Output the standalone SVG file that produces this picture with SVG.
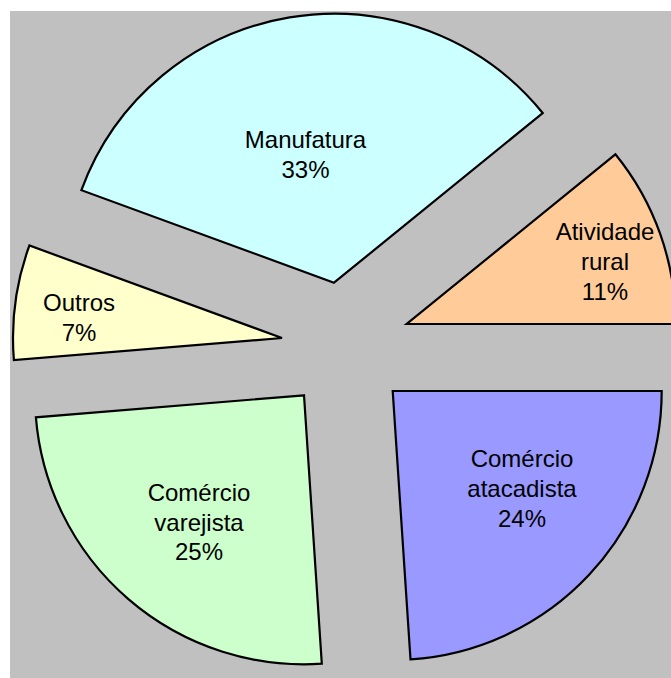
<svg xmlns="http://www.w3.org/2000/svg" width="671" height="678" viewBox="0 0 671 678">
<style>
.s{stroke:#000;stroke-width:2.2;stroke-linejoin:miter}
text{font-family:"Liberation Sans",Arial,sans-serif;font-size:24px;fill:#000;text-anchor:middle}
</style>
<rect x="0" y="0" width="671" height="678" fill="#fff"/>
<rect x="10" y="11" width="661" height="667" fill="#C0C0C0"/>
<g id="manufatura">
<path class="s" fill="#CCFFFF" d="M334,282.7 L542.7,113 A269,269 0 0,0 81.4,190.2 Z"/>
<text x="305.5" y="148">Manufatura</text>
<text x="305.5" y="178">33%</text>
</g>
<g id="atividade-rural">
<path class="s" fill="#FFCC99" d="M406.7,324 L675.7,324 A269,269 0 0,0 615.4,154.3 Z"/>
<text x="605" y="240">Atividade</text>
<text x="605" y="270">rural</text>
<text x="605" y="300">11%</text>
</g>
<g id="outros">
<path class="s" fill="#FFFFCC" d="M282,338 L29.4,245.5 A269,269 0 0,0 13.9,360 Z"/>
<text x="79" y="311">Outros</text>
<text x="79" y="341">7%</text>
</g>
<g id="comercio-varejista">
<path class="s" fill="#CCFFCC" d="M304,395.3 L35.9,417.3 A269,269 0 0,0 321.8,663.7 Z"/>
<text x="199" y="501">Comércio</text>
<text x="199" y="531">varejista</text>
<text x="199" y="560">25%</text>
</g>
<g id="comercio-atacadista">
<path class="s" fill="#9999FF" d="M392.7,391 L410.5,659.4 A269,269 0 0,0 661.7,391 Z"/>
<text x="522" y="467">Comércio</text>
<text x="522" y="497">atacadista</text>
<text x="522" y="527">24%</text>
</g>
<g id="connectors"></g>
</svg>
